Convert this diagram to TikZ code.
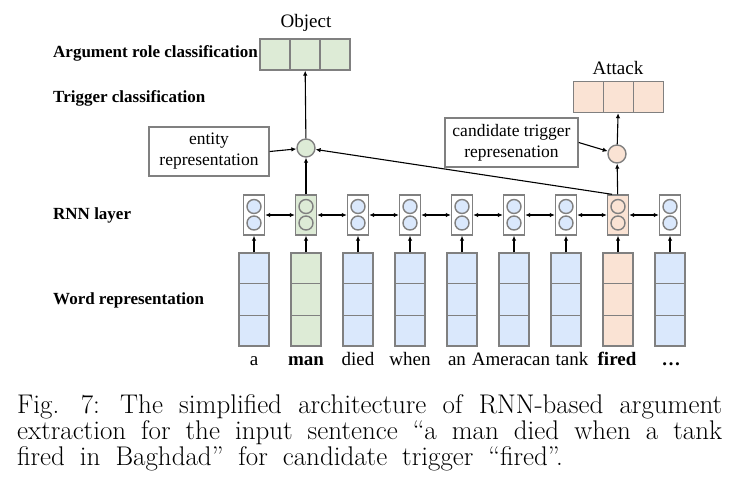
\documentclass[tikz,border=0pt]{standalone}
\usepackage{fontspec}
\newfontfamily\lib{Liberation Serif}
\newcommand\capsp{\spaceskip=15pt plus 20pt minus 2pt\relax}
\usetikzlibrary{arrows.meta,calc}
\definecolor{bluef}{HTML}{DAE8FC}
\definecolor{greenf}{HTML}{DDEBD6}
\definecolor{orangef}{HTML}{FAE3D4}
\definecolor{bordgray}{HTML}{808080}
\begin{document}
\begin{tikzpicture}[x=1pt,y=-1pt,
  bd/.style={draw=bordgray, line width=1.4pt},
  wbox/.style={bd, minimum width=30pt, minimum height=93pt, inner sep=0pt},
  rbox/.style={bd, minimum width=21pt, minimum height=40pt, inner sep=0pt},
  cellc/.style={circle, bd, minimum size=14pt, inner sep=0pt},
  ocell/.style={bd, minimum width=30pt, minimum height=31pt, inner sep=0pt},
  bigc/.style={circle, bd, minimum size=18pt, inner sep=0pt},
  tbox/.style={bd, fill=white, minimum height=49pt, align=center, inner sep=0pt, font=\lib\fontsize{17.5}{21}\selectfont},
  arr/.style={-{Latex[length=5pt,width=4.5pt]}, line width=1.1pt},
  darr/.style={{Latex[length=5pt,width=4.5pt]}-{Latex[length=5pt,width=4.5pt]}, line width=1.1pt},
  lab/.style={font=\lib\fontsize{17}{18}\selectfont\bfseries, anchor=west, inner sep=0pt},
  ttl/.style={font=\lib\fontsize{19}{20}\selectfont, inner sep=0pt},
  word/.style={font=\lib\fontsize{19}{21}\selectfont, anchor=base, inner sep=0pt},
  capt/.style={font=\rmfamily\fontsize{27}{26}\selectfont, anchor=base west, inner sep=0pt}
]
\useasboundingbox (0,0) rectangle (738,496);

% columns
\foreach \i/\x/\c/\rf in {1/254/bluef/white,2/306/greenf/greenf,3/358/bluef/white,4/410/bluef/white,5/462/bluef/white,6/514/bluef/white,7/566/bluef/white,8/618/orangef/orangef,9/670/bluef/white}{
  \node[wbox, fill=\c] (w\i) at (\x,299.5) {};
  \draw[bd] ($(w\i.north west)!1/3!(w\i.south west)$) -- ($(w\i.north east)!1/3!(w\i.south east)$);
  \draw[bd] ($(w\i.north west)!2/3!(w\i.south west)$) -- ($(w\i.north east)!2/3!(w\i.south east)$);
  \node[rbox, fill=\rf] (r\i) at (\x,215) {};
  \node[cellc, fill=\c] (ca\i) at (\x,206.5) {};
  \node[cellc, fill=\c] (cb\i) at (\x,223) {};
  \draw[arr] (w\i) -- (r\i);
}
\foreach \i [evaluate=\i as \j using int(\i+1)] in {1,...,8}{
  \draw[darr] (r\i) -- (r\j);
}

% words
\node[word] (t1) at (254,365) {a};
\node[word] (t2) at (306,365) {\textbf{man}};
\node[word] (t3) at (358,365) {died};
\node[word] (t4) at (410,365) {when};
\node[word] (t5) at (457,365) {an};
\node[word] (t6) at (511,365) {Ameracan};
\node[word] (t7) at (572,365) {tank};
\node[word] (t8) at (617,365) {\textbf{fired}};
\node[word] (t9) at (671,365) {\textbf{\dots}};

% left labels
\node[lab] (l1) at (53,53) {Argument role classification};
\node[lab] (l2) at (53,98) {Trigger classification};
\node[lab] (l3) at (53,215) {RNN layer};
\node[lab] (l4) at (53,300) {Word representation};

% output boxes
\foreach \k/\x in {1/275,2/305,3/335}{
  \node[ocell, fill=greenf] (o\k) at (\x,54.5) {};
}
\node[ttl] (objl) at (306,23) {Object};
\foreach \k/\x in {1/588.5,2/618.5,3/648.5}{
  \node[ocell, fill=orangef] (a\k) at (\x,97) {};
}
\node[ttl] (attl) at (618,67.5) {Attack};

% combination circles and representation boxes
\node[bigc, fill=greenf] (ent) at (306,148) {};
\node[bigc, fill=orangef] (trig) at (617,154) {};
\node[tbox, minimum width=120pt] (entb) at (209,151.5) {entity\\representation};
\node[tbox, minimum width=133pt] (candb) at (511.5,142.5) {candidate trigger\\represenation};

\draw[arr] (entb.east) -- (ent);
\draw[arr] (r2) -- (ent);
\draw[arr] (ent) -- (o2);
\draw[arr] ([xshift=-6pt]r8.north) -- (ent);
\draw[arr] (r8) -- (trig);
\draw[arr] (candb.east) -- (trig);
\draw[arr] (trig) -- (a2);

% caption
\node[capt] (cap1) at (17,413) {\capsp\makebox[705pt][s]{Fig. 7: The simplified architecture of RNN-based argument}};
\node[capt] (cap2) at (17,439) {\capsp\makebox[705pt][s]{extraction for the input sentence “a man died when a tank}};
\node[capt] (cap3) at (17,465) {\capsp fired in Baghdad” for candidate trigger “fired”.};
\end{tikzpicture}
\end{document}
